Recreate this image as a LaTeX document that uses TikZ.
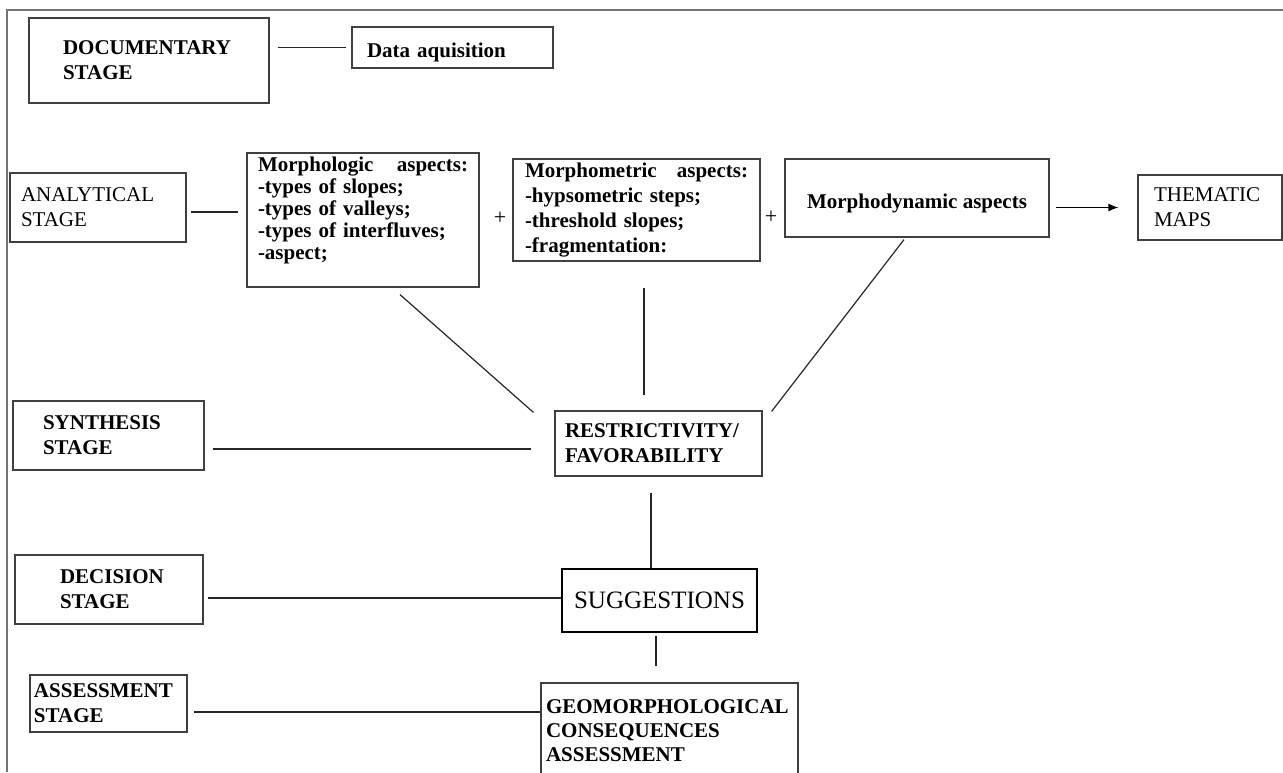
\documentclass[tikz,border=0pt]{standalone}
\usepackage{fontspec}
\setmainfont{Liberation Serif}
\usetikzlibrary{arrows.meta, positioning, calc}

\begin{document}
\begin{tikzpicture}[
  x=1pt, y=-1pt,
  box/.style={rectangle, draw=black!75, line width=1.2pt, align=left, inner ysep=0pt, font=\bfseries\fontsize{21}{25}\selectfont},
  lighttext/.style={font=\fontsize{21}{25}\selectfont},
  link/.style={line width=1.2pt, black!85},
  arrow/.style={-{Latex[length=10pt,width=8pt]}, line width=1.2pt},
  plus/.style={font=\fontsize{22}{22}\selectfont, inner sep=0pt},
]
\clip (0,0) rectangle (1283,772);
\draw[black!55, line width=1.2pt] (1283,10) -- (7,10) -- (7,772);

% stages
\node[box, text width=172pt, inner xsep=34pt, minimum height=85pt] (doc) at (149,60.5) {DOCUMENTARY\\STAGE};
\node[box, lighttext, text width=154pt, inner xsep=11pt, minimum height=69pt] (ana) at (98,207.5) {ANALYTICAL\\STAGE};
\node[box, text width=131pt, inner xsep=30pt, minimum height=69pt] (syn) at (108.5,435.5) {SYNTHESIS\\STAGE};
\node[box, text width=98pt, inner xsep=45pt, minimum height=69pt] (dec) at (109,589.5) {DECISION\\STAGE};
\node[box, text width=149pt, inner xsep=4pt, minimum height=57pt] (ass) at (108.5,703.5) {ASSESSMENT\\STAGE};

% contents
\node[box, text width=171pt, inner xsep=15pt, minimum height=41pt] (data) at (452.5,47.5) {\rule{0pt}{25pt}Data aquisition};
\node[box, font=\bfseries\fontsize{21}{22}\selectfont, text width=210pt, inner xsep=11pt, minimum height=134pt] (morph) at (363,220)
  {Morphologic \hfill aspects:\\-types of slopes;\\-types of valleys;\\-types of interfluves;\\-aspect;\rule[-23pt]{0pt}{0pt}};
\node[plus] (plusA) at (500,218) {+};
\node[box, font=\bfseries\fontsize{21}{24.7}\selectfont, text width=223pt, inner xsep=12pt, minimum height=102pt] (metric) at (636.5,210)
  {Morphometric \hfill aspects:\\-hypsometric steps;\\-threshold slopes;\\-fragmentation:};
\node[plus] (plusB) at (771,217) {+};
\node[box, align=center, minimum width=264pt, minimum height=78pt] (dyn) at (917,198) {\rule{0pt}{25pt}Morphodynamic aspects};
\node[box, lighttext, text width=112pt, inner xsep=16pt, minimum height=65pt] (maps) at (1210,207.5) {THEMATIC\\MAPS};
\node[box, text width=187pt, inner xsep=10pt, minimum height=65pt] (restr) at (658.5,443.5) {RESTRICTIVITY/\\FAVORABILITY};
\node[box, draw=black, line width=2.4pt, align=center, minimum width=195pt, minimum height=63pt, font=\fontsize{25}{25}\selectfont] (sugg) at (659.5,600.5) {SUGGESTIONS};
\node[box, font=\bfseries\fontsize{21}{24}\selectfont, text width=247pt, inner xsep=5pt, minimum height=95pt] (geo) at (669.5,730.5)
  {GEOMORPHOLOGICAL\\CONSEQUENCES\\ASSESSMENT};

\draw[link] ($(doc.east |- data.west)+(8,0)$) -- ($(data.west)+(-5,0)$);
\draw[link] ($(ana.east)+(4,4.5)$) -- ($(morph.west |- ana.east)+(-8,4.5)$);
\draw[arrow] ($(dyn.east |- maps.west)+(6,0)$) -- ($(maps.west)+(-19,0)$);
\draw[link] ($(morph.south)+(37,7)$) -- ($(restr.north west)+(-21,2)$);
\draw[link] ($(metric.south)+(7.5,26)$) -- ($(restr.north)+(-14.5,-15)$);
\draw[link] ($(dyn.south)+(-13,2)$) -- ($(restr.north east)+(9,1)$);
\draw[link] ($(syn.east |- restr.west)+(8,5.5)$) -- ($(restr.west)+(-23,5.5)$);
\draw[link, line width=2.4pt] ($(restr.south)+(-7.5,16)$) -- ($(sugg.north)+(-8.5,0)$);
\draw[link] ($(dec.east |- sugg.west)+(4,-2.5)$) -- ($(sugg.west)+(0,-2.5)$);
\draw[link] ($(sugg.south)+(-3.5,3)$) -- ($(geo.north)+(-13.5,-16)$);
\draw[link] ($(ass.east)+(6,8.5)$) -- ($(geo.west |- ass.east)+(0,8.5)$);
\end{tikzpicture}
\end{document}
